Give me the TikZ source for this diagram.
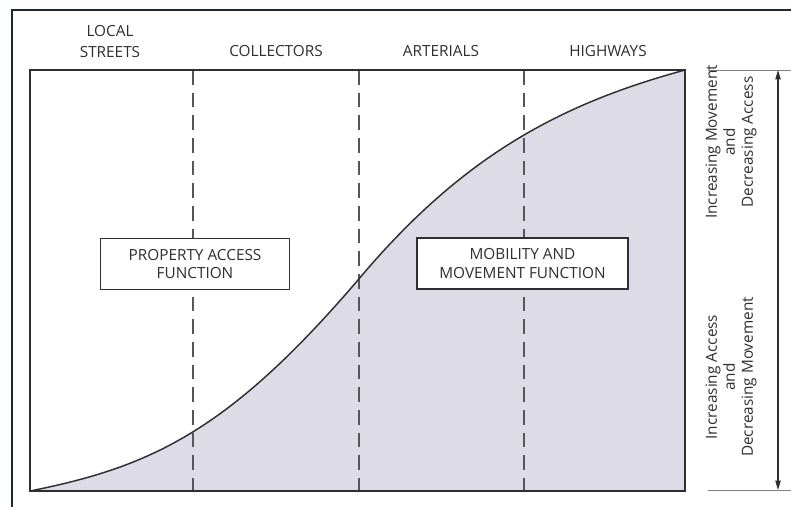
\documentclass[tikz,border=0pt]{standalone}
\usepackage{fontspec}
\setmainfont{Open Sans}
\usetikzlibrary{arrows.meta}
\definecolor{framecol}{HTML}{1E2833}
\definecolor{inkcol}{HTML}{2E2E33}
\definecolor{areacol}{HTML}{DCDBE6}
\definecolor{dashcol}{HTML}{55555C}
\begin{document}
\begin{tikzpicture}[x=0.75pt,y=-0.75pt,
  txt/.style={text=inkcol,font=\fontsize{11.5}{15.5}\selectfont,align=center,inner sep=0pt},
  fnbox/.style={draw=inkcol,line width=1.1pt,fill=white,minimum height=38pt,inner sep=0pt,
    text=inkcol,font=\fontsize{11.5}{14}\selectfont,align=center},
  sidetxt/.style={txt,rotate=90,font=\fontsize{11.5}{13.5}\selectfont},
  divider/.style={dashcol,line width=1pt,dash pattern=on 11pt off 6pt},
  rangearrow/.style={inkcol,line width=0.8pt,{Triangle[length=7pt,width=4pt]}-{Triangle[length=7pt,width=4pt]}},
  tick/.style={gray,line width=0.7pt}]
\useasboundingbox (0,0) rectangle (791,507);

% outer frame (open to the right and bottom)
\draw[framecol,line width=2.2pt] (12,507) -- (12,10) -- (791,10);

% chart corners
\coordinate (BL) at (30,491);
\coordinate (TR) at (685,70);
\coordinate (BR) at (685,491);
\coordinate (TL) at (30,70);

% area under the access/mobility curve
\fill[areacol] (BL) .. controls (150,467) and (228,432) .. (358,280)
  .. controls (462,156) and (560,104) .. (TR) -- (BR) -- cycle;

% class dividers
\foreach \x/\n in {193/a,359/b,524/c}{
  \coordinate (d\n top) at (\x,70);
  \coordinate (d\n bot) at (\x,491);
  \draw[divider] (d\n top) -- (d\n bot);
}

% the curve
\draw[inkcol,line width=1.1pt] (BL) .. controls (150,467) and (228,432) .. (358,280)
  .. controls (462,156) and (560,104) .. (TR);

% chart frame
\draw[inkcol,line width=1.4pt] (TL) rectangle (BR);

% class headings
\node[txt] (local) at (110,41.5) {LOCAL\\STREETS};
\node[txt] (coll) at (276,51) {COLLECTORS};
\node[txt] (art) at (441,51) {ARTERIALS};
\node[txt] (hwy) at (608,51) {HIGHWAYS};

% function boxes
\node[fnbox,minimum width=142pt] (access) at (195,264) {PROPERTY ACCESS\\FUNCTION};
\node[fnbox,minimum width=158pt] (mobility) at (522.5,263.5) {MOBILITY AND\\MOVEMENT FUNCTION};

% range scale on the right
\coordinate (tickTopL) at (708,70);
\coordinate (tickTopR) at (791,70);
\coordinate (tickBotL) at (708,490);
\coordinate (tickBotR) at (791,490);
\draw[tick] (tickTopL) -- (tickTopR);
\draw[tick] (tickBotL) -- (tickBotR);
\coordinate (arTop) at (778,70);
\coordinate (arBot) at (778,490);
\draw[rangearrow] (arBot) -- (arTop);

\node[sidetxt] (upper) at (731,142) {Increasing Movement\\and\\Decreasing Access};
\node[sidetxt] (lower) at (731,377) {Increasing Access\\and\\Decreasing Movement};
\end{tikzpicture}
\end{document}
